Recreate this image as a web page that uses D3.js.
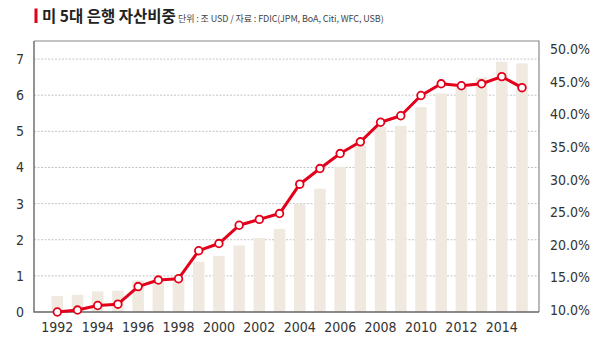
<!DOCTYPE html>
<html><head><meta charset="utf-8">
<script src="https://cdn.jsdelivr.net/npm/d3@7"></script>
<style>
html,body{margin:0;padding:0;background:#fff;}
svg{display:block;}
</style></head>
<body><svg id="c" width="600" height="350"></svg>
<script>
const years = [1992,1993,1994,1995,1996,1997,1998,1999,2000,2001,2002,2003,2004,2005,2006,2007,2008,2009,2010,2011,2012,2013,2014,2015];
const assets = [0.44,0.48,0.57,0.59,0.87,0.88,0.90,1.39,1.55,1.84,2.05,2.30,3.00,3.41,4.02,4.60,5.12,5.15,5.67,6.05,6.22,6.49,6.93,6.88];
const share = [10.0,10.3,11.0,11.2,13.9,14.9,15.1,19.4,20.5,23.3,24.2,25.1,29.6,32.0,34.3,36.1,39.1,40.1,43.2,45.0,44.7,45.0,46.1,44.4];
const leftTicks = [0,1,2,3,4,5,6,7];
const rightTicks = [10,15,20,25,30,35,40,45,50];
const xLabels = [1992,1994,1996,1998,2000,2002,2004,2006,2008,2010,2012,2014];
const title = "미 5대 은행 자산비중";
const subtitle = "단위 : 조 USD / 자료 : FDIC(JPM, BoA, Citi, WFC, USB)";

const svg = d3.select("#c");
const L = 34, R = 539, T = 41, B = 312;
const numFont = "'Liberation Sans Narrow','DejaVu Sans Condensed',Roboto,sans-serif";

const x = d3.scaleBand().domain(years).range([47.2, 532.1]).paddingInner(0.43).paddingOuter(0.215);
const yL = d3.scaleLinear().domain([0, 7.5]).range([B, T]);
const yR = d3.scaleLinear().domain([10, 51.56]).range([B, T]);

// gridlines
svg.append("g").selectAll("line").data(leftTicks.filter(d => d > 0)).join("line")
  .attr("x1", L).attr("x2", R).attr("y1", d => yL(d)).attr("y2", d => yL(d))
  .attr("stroke", "#b5b5b5").attr("stroke-width", 0.8).attr("stroke-dasharray", "2,1.5");

// bars
svg.append("g").selectAll("rect").data(years).join("rect")
  .attr("x", d => x(d)).attr("width", x.bandwidth())
  .attr("y", (d, i) => yL(assets[i])).attr("height", (d, i) => B - yL(assets[i]))
  .attr("fill", "#efe9e0");

// frame
svg.append("path").attr("d", `M${L},${T}H${R}V${B}`).attr("fill", "none").attr("stroke", "#8a8a8a").attr("stroke-width", 1.2);
svg.append("path").attr("d", `M${L},${T}V${B}H${R}`).attr("fill", "none").attr("stroke", "#666").attr("stroke-width", 1.4);

// left axis
const axL = svg.append("g").attr("transform", `translate(${L},0)`)
  .call(d3.axisLeft(yL).tickValues(leftTicks).tickSize(0).tickPadding(10).tickFormat(d3.format("d")));
axL.select(".domain").remove();
axL.selectAll("text").attr("font-family", numFont).attr("font-size", 14).attr("fill", "#333");

// right axis
const axR = svg.append("g").attr("transform", `translate(${R},0)`)
  .call(d3.axisRight(yR).tickValues(rightTicks).tickSize(0).tickPadding(11).tickFormat(d => d.toFixed(1) + "%"));
axR.select(".domain").remove();
axR.selectAll("text").attr("font-family", numFont).attr("font-size", 14).attr("fill", "#333");
axR.selectAll(".tick").attr("transform", d => `translate(0,${yR(d) - 1.5})`);

// bottom axis
const axB = svg.append("g").attr("transform", `translate(0,${B})`)
  .call(d3.axisBottom(x).tickValues(xLabels).tickSize(0).tickPadding(10));
axB.select(".domain").remove();
axB.selectAll("text").attr("font-family", numFont).attr("font-size", 14).attr("fill", "#333");

// line
const line = d3.line().x((d, i) => x(years[i]) + x.bandwidth() / 2).y(d => yR(d));
svg.append("path").datum(share).attr("d", line).attr("fill", "none")
  .attr("stroke", "#e2001a").attr("stroke-width", 3).attr("stroke-linejoin", "round");
svg.append("g").selectAll("circle").data(share).join("circle")
  .attr("cx", (d, i) => x(years[i]) + x.bandwidth() / 2).attr("cy", d => yR(d))
  .attr("r", 3.8).attr("fill", "#fff").attr("stroke", "#e2001a").attr("stroke-width", 1.8);

// title
svg.append("rect").attr("x", 34.5).attr("y", 8.5).attr("width", 3).attr("height", 14.5).attr("fill", "#e2001a");
svg.append("text").attr("x", 42).attr("y", 22).attr("font-family", "'Noto Sans CJK KR',sans-serif")
  .attr("font-weight", "bold").attr("font-size", 15.5).attr("fill", "#222").text(title);
svg.append("text").attr("x", 178).attr("y", 22).attr("font-family", "'Noto Sans CJK KR',sans-serif")
  .attr("font-size", 9).attr("fill", "#444").attr("letter-spacing", "-0.1").text(subtitle);
</script></body></html>
